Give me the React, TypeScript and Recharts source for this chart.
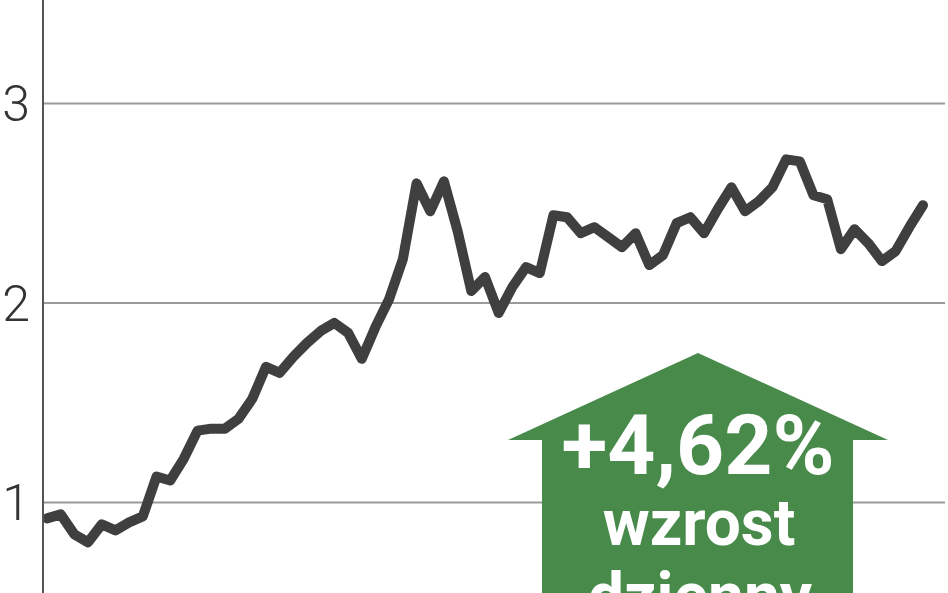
import { Line, LineChart, ReferenceLine, XAxis, YAxis } from 'recharts';

// index value, oldest to newest
const values = [
  0.92, 0.94, 0.84, 0.8, 0.89, 0.86, 0.9, 0.93, 1.13, 1.11,
  1.22, 1.36, 1.37, 1.37, 1.42, 1.52, 1.68, 1.65, 1.73, 1.8,
  1.86, 1.9, 1.85, 1.72, 1.88, 2.02, 2.22, 2.6, 2.46, 2.61,
  2.36, 2.06, 2.13, 1.95, 2.08, 2.18, 2.15, 2.44, 2.43, 2.35,
  2.38, 2.33, 2.28, 2.35, 2.19, 2.24, 2.4, 2.43, 2.35, 2.47,
  2.58, 2.46, 2.51, 2.58, 2.72, 2.71, 2.54, 2.52, 2.27, 2.37,
  2.3, 2.21, 2.26, 2.38, 2.49,
];
const yTicks = [1, 2, 3];
const badgeLines = ['+4,62%', 'wzrost', 'dzienny'];

const data = values.map((v, i) => ({ idx: i, value: v }));

function Badge() {
  return (
    <svg
      width={948}
      height={593}
      style={{ position: 'absolute', left: 0, top: 0, pointerEvents: 'none' }}
    >
      <polygon
        points="698,353 888,440 853,440 853,593 542,593 542,440 508,440"
        fill="#478a4a"
      />
      <g fill="#fff" fontFamily="Roboto, 'Liberation Sans', sans-serif" fontWeight={700} textAnchor="middle">
        <text x={698} y={474} fontSize={84}>{badgeLines[0]}</text>
        <text x={699} y={545} fontSize={64}>{badgeLines[1]}</text>
        <text x={700} y={618} fontSize={64}>{badgeLines[2]}</text>
      </g>
    </svg>
  );
}

export default function App() {
  return (
    <div style={{ position: 'absolute', left: 0, top: 0, width: 948, height: 593, background: '#fff' }}>
      <LineChart width={948} height={593} data={data} margin={{ top: 0, right: 3, bottom: 0, left: 0 }}>
        <XAxis dataKey="idx" hide padding={{ left: 4, right: 22 }} />
        <YAxis
          width={43}
          domain={[0.546, 3.519]}
          allowDataOverflow
          ticks={yTicks}
          tickLine={false}
          tickSize={0}
          tickMargin={13}
          axisLine={{ stroke: '#555', strokeWidth: 2 }}
          tick={{ fill: '#333', fontSize: 50, fontFamily: 'Roboto, sans-serif', fontWeight: 300 }}
        />
        {yTicks.map((t) => (
          <ReferenceLine key={t} y={t} stroke="#9a9a9a" strokeWidth={2} />
        ))}
        <Line
          type="linear"
          dataKey="value"
          stroke="#3f3f3f"
          strokeWidth={10}
          strokeLinejoin="round"
          strokeLinecap="round"
          dot={false}
          isAnimationActive={false}
        />
      </LineChart>
      <Badge />
    </div>
  );
}
